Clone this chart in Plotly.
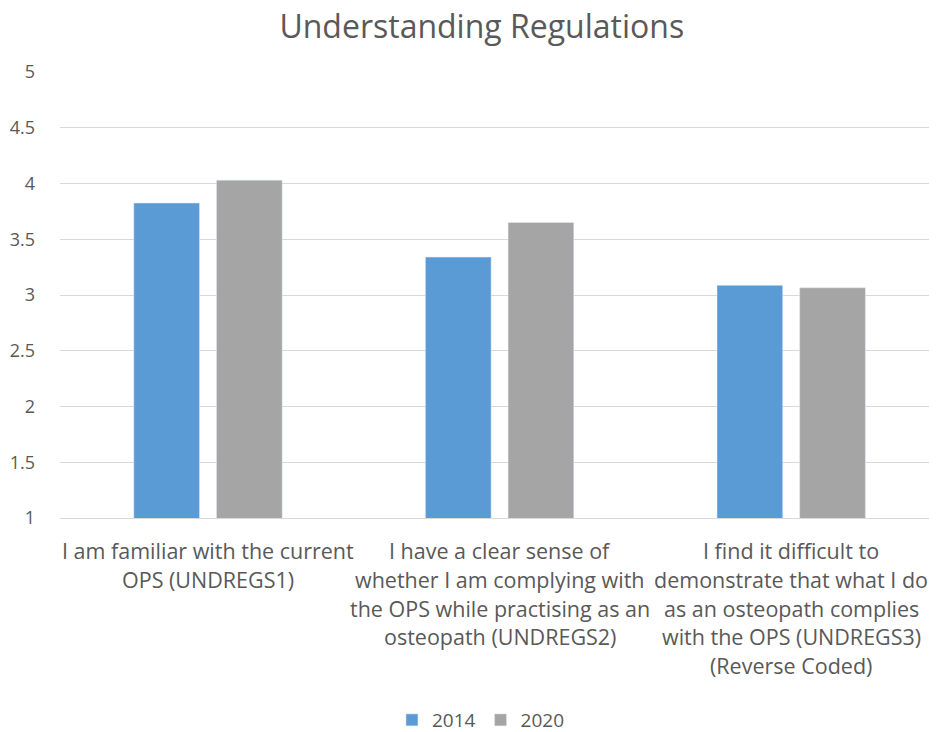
import plotly.graph_objects as go

categories = ["UNDREGS1", "UNDREGS2", "UNDREGS3"]
category_lines = [
    ["I am familiar with the current", "OPS (UNDREGS1)"],
    ["I have a clear sense of", "whether I am complying with", "the OPS while practising as an", "osteopath (UNDREGS2)"],
    ["I find it difficult to", "demonstrate that what I do", "as an osteopath complies", "with the OPS (UNDREGS3)", "(Reverse Coded)"],
]
values_2014 = [3.825, 3.34, 3.087]
values_2020 = [4.03, 3.65, 3.065]
y_ticks = [1, 1.5, 2, 2.5, 3, 3.5, 4, 4.5, 5]
y_tick_text = ["1", "1.5", "2", "2.5", "3", "3.5", "4", "4.5", "5"]

FONT = "Open Sans"
GRAY = "#595959"

fig = go.Figure()
fig.add_trace(go.Bar(name="2014", x=categories, y=values_2014, marker_color="#5B9BD5"))
fig.add_trace(go.Bar(name="2020", x=categories, y=values_2020, marker_color="#A5A5A5"))

for cat, lines in zip(categories, category_lines):
    for i, line in enumerate(lines):
        fig.add_annotation(x=cat, y=0, xref="x", yref="paper", text=line, showarrow=False,
                           yanchor="top", yshift=-16 - 28.8 * i,
                           font=dict(family=FONT, size=21.5, color=GRAY))

fig.update_layout(
    width=929, height=724,
    paper_bgcolor="white", plot_bgcolor="white",
    margin=dict(l=52, r=0, t=64, b=214, autoexpand=False),
    barmode="group", bargap=0.433, bargroupgap=0.205,
    title=dict(text="Understanding Regulations", x=0.51, xanchor="center", y=0.974, yanchor="middle",
               font=dict(family=FONT, size=32, color=GRAY)),
    legend=dict(orientation="h", x=0.48, xanchor="center", y=-0.453, yanchor="middle",
                font=dict(family=FONT, size=19, color=GRAY), itemwidth=30,
                traceorder="normal"),
    xaxis=dict(showticklabels=False, showline=True, linecolor="#D9D9D9", ticks=""),
    yaxis=dict(range=[1, 5], tickvals=y_ticks, ticktext=y_tick_text, showgrid=True, gridcolor="#D9D9D9",
               zeroline=False, showline=False, ticklabelstandoff=24, automargin=False,
               tickfont=dict(family=FONT, size=18, color=GRAY)),
)

fig.write_html("out.html")
